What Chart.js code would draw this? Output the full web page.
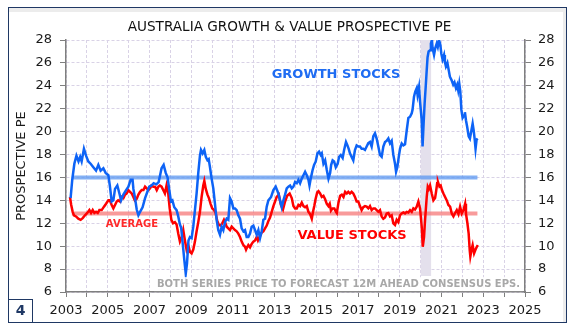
<!DOCTYPE html>
<html lang="en">
<head>
<meta charset="UTF-8">
<title>Australia Growth &amp; Value Prospective PE</title>
<script src="https://cdn.jsdelivr.net/npm/chart.js"></script>
<style>
  html, body { margin: 0; padding: 0; background: #fff; }
  .wrap { position: relative; width: 579px; height: 324px; }
  canvas { position: absolute; left: 0; top: 0; }
  .frame {
    position: absolute; left: 8px; top: 7px; width: 559px; height: 316px;
    box-sizing: border-box; border: 1.5px solid #1f3864;
    box-shadow: inset -3px 4px 0 #ececec; pointer-events: none;
  }
  .page-no {
    position: absolute; left: 8px; top: 299px; width: 25px; height: 24px;
    box-sizing: border-box; border: 1.5px solid #1f3864;
    font: bold 14px "DejaVu Sans", Verdana, sans-serif; color: #1f3864;
    text-align: center; line-height: 21px;
  }
</style>
</head>
<body>
<div class="wrap">
  <canvas id="peChart" width="579" height="324"></canvas>
  <div class="frame"></div>
  <div class="page-no">4</div>
</div>

<script>
// Growth stocks prospective PE (decimal year, PE)
const growthDates = [2003.22,2003.3,2003.4,2003.5,2003.6,2003.68,2003.75,2003.86,2003.96,2004.07,2004.18,2004.31,2004.44,2004.55,2004.66,2004.79,2004.9,2005.03,2005.1,2005.19,2005.27,2005.35,2005.46,2005.56,2005.64,2005.75,2005.88,2005.99,2006.1,2006.19,2006.23,2006.3,2006.39,2006.47,2006.55,2006.67,2006.79,2006.9,2006.99,2007.1,2007.2,2007.33,2007.44,2007.5,2007.58,2007.68,2007.78,2007.87,2007.94,2008.03,2008.1,2008.19,2008.3,2008.38,2008.46,2008.52,2008.58,2008.67,2008.74,2008.8,2008.87,2008.94,2009.02,2009.1,2009.18,2009.26,2009.34,2009.42,2009.47,2009.55,2009.63,2009.7,2009.78,2009.84,2009.9,2009.98,2010.06,2010.14,2010.22,2010.3,2010.38,2010.46,2010.54,2010.62,2010.7,2010.78,2010.86,2010.94,2011.02,2011.1,2011.18,2011.26,2011.34,2011.42,2011.5,2011.58,2011.66,2011.74,2011.82,2011.9,2011.98,2012.06,2012.14,2012.22,2012.3,2012.38,2012.46,2012.54,2012.62,2012.7,2012.83,2012.94,2013.05,2013.18,2013.26,2013.34,2013.42,2013.5,2013.58,2013.66,2013.74,2013.82,2013.9,2013.98,2014.06,2014.14,2014.22,2014.3,2014.38,2014.46,2014.54,2014.62,2014.67,2014.73,2014.82,2014.89,2014.97,2015.05,2015.13,2015.21,2015.26,2015.34,2015.42,2015.5,2015.58,2015.66,2015.71,2015.78,2015.85,2015.93,2016.02,2016.09,2016.17,2016.26,2016.33,2016.42,2016.49,2016.55,2016.61,2016.69,2016.77,2016.85,2016.93,2017.01,2017.09,2017.17,2017.25,2017.33,2017.41,2017.49,2017.57,2017.65,2017.73,2017.81,2017.89,2017.97,2018.05,2018.13,2018.21,2018.29,2018.37,2018.45,2018.53,2018.61,2018.69,2018.77,2018.82,2018.88,2018.95,2019.01,2019.09,2019.17,2019.25,2019.33,2019.41,2019.49,2019.57,2019.61,2019.68,2019.74,2019.81,2019.85,2019.92,2019.97,2020.05,2020.09,2020.14,2020.19,2020.24,2020.29,2020.33,2020.38,2020.45,2020.49,2020.54,2020.57,2020.64,2020.7,2020.77,2020.82,2020.88,2020.94,2020.99,2021.05,2021.12,2021.16,2021.21,2021.28,2021.34,2021.4,2021.48,2021.56,2021.62,2021.69,2021.75,2021.8,2021.85,2021.9,2021.95,2022.01,2022.08,2022.12,2022.17,2022.23,2022.3,2022.36,2022.43,2022.49,2022.54,2022.59,2022.63,2022.68,2022.73];
const growthPE = [14.2,15.8,17.2,17.9,17.4,17.8,17.4,18.5,17.9,17.4,17.2,16.9,16.6,17.1,16.6,16.8,16.4,16.2,15.3,13.9,14.0,15.0,15.3,14.6,14.0,14.5,14.9,15.2,15.8,15.8,15.0,14.3,13.2,12.7,13.0,13.4,14.2,14.75,15.2,15.3,15.5,15.4,15.6,16.1,16.8,17.1,16.4,16.0,15.05,13.9,14.0,13.4,13.15,12.6,11.9,11.6,10.5,8.8,7.6,8.5,10.5,10.8,10.7,11.7,13.15,14.6,16.4,17.9,18.4,18.1,18.4,17.8,17.5,17.6,16.9,15.9,15.05,13.7,12.3,11.4,11.0,11.7,11.4,12.1,12.4,12.3,14.2,13.9,13.3,13.3,13.15,12.7,12.4,11.55,11.3,11.4,10.8,10.8,11.1,11.7,11.8,11.4,11.0,11.4,10.7,11.3,12.3,12.4,13.45,14.0,14.3,14.9,15.2,14.6,14.0,13.4,14.0,14.5,15.05,15.2,15.3,15.05,15.2,15.6,15.5,15.8,15.5,15.9,16.2,16.5,16.2,15.8,15.3,15.9,16.65,17.1,17.4,18.1,18.25,17.96,18.1,17.2,17.5,16.65,15.9,16.4,17.1,17.5,17.4,16.9,17.2,17.8,17.96,17.7,18.4,19.1,18.8,18.5,18.1,17.8,17.5,18.4,18.8,18.7,18.7,18.5,18.5,18.4,18.7,19.0,19.1,18.7,19.6,19.85,19.4,18.7,17.96,17.8,18.7,19.1,19.2,19.4,18.97,19.2,17.96,17.2,16.5,16.9,17.8,18.5,18.97,18.8,18.9,20.1,21.2,21.3,21.6,21.9,23.05,23.5,23.8,23.2,23.9,22.6,21.0,18.7,20.7,22.5,23.9,25.4,26.5,27.0,27.1,27.7,28.0,27.3,26.7,27.3,27.7,27.4,28.0,27.6,26.8,26.3,26.7,26.1,25.7,26.0,25.4,24.8,24.5,24.1,24.3,23.8,24.1,23.6,24.2,23.5,21.9,21.2,21.4,21.7,21.0,20.4,19.6,19.4,20.1,20.7,20.1,19.3,18.5,19.3,19.4];

// Value stocks prospective PE (decimal year, PE)
const valueDates = [2003.19,2003.25,2003.32,2003.38,2003.48,2003.59,2003.7,2003.8,2003.91,2004.02,2004.12,2004.2,2004.28,2004.36,2004.44,2004.52,2004.6,2004.71,2004.82,2004.92,2005.03,2005.1,2005.19,2005.27,2005.35,2005.43,2005.5,2005.59,2005.67,2005.75,2005.83,2005.91,2005.99,2006.07,2006.15,2006.23,2006.3,2006.39,2006.47,2006.55,2006.63,2006.71,2006.79,2006.87,2006.95,2007.03,2007.1,2007.18,2007.27,2007.35,2007.43,2007.5,2007.58,2007.66,2007.74,2007.82,2007.9,2007.97,2008.05,2008.13,2008.22,2008.3,2008.38,2008.46,2008.55,2008.62,2008.7,2008.78,2008.86,2008.94,2009.02,2009.1,2009.18,2009.26,2009.34,2009.42,2009.5,2009.58,2009.63,2009.7,2009.78,2009.85,2009.93,2010.01,2010.08,2010.17,2010.25,2010.33,2010.41,2010.49,2010.57,2010.64,2010.7,2010.78,2010.86,2010.94,2011.02,2011.1,2011.18,2011.26,2011.34,2011.42,2011.5,2011.58,2011.63,2011.68,2011.74,2011.82,2011.9,2011.98,2012.06,2012.14,2012.2,2012.3,2012.38,2012.46,2012.54,2012.62,2012.7,2012.78,2012.86,2012.94,2013.02,2013.1,2013.2,2013.3,2013.4,2013.5,2013.6,2013.72,2013.82,2013.9,2013.98,2014.06,2014.14,2014.22,2014.3,2014.38,2014.46,2014.54,2014.62,2014.7,2014.78,2014.84,2014.9,2014.96,2015.04,2015.1,2015.18,2015.26,2015.34,2015.42,2015.5,2015.58,2015.64,2015.7,2015.78,2015.86,2015.94,2015.98,2016.06,2016.14,2016.22,2016.3,2016.38,2016.46,2016.53,2016.61,2016.69,2016.77,2016.85,2016.93,2017.01,2017.09,2017.17,2017.25,2017.33,2017.41,2017.49,2017.57,2017.65,2017.73,2017.81,2017.89,2017.97,2018.05,2018.13,2018.21,2018.29,2018.37,2018.45,2018.53,2018.61,2018.69,2018.77,2018.85,2018.93,2019.01,2019.09,2019.17,2019.25,2019.33,2019.41,2019.49,2019.57,2019.65,2019.73,2019.81,2019.89,2019.97,2020.05,2020.1,2020.16,2020.21,2020.29,2020.34,2020.39,2020.45,2020.53,2020.61,2020.69,2020.74,2020.79,2020.83,2020.9,2020.96,2021.02,2021.09,2021.17,2021.25,2021.33,2021.41,2021.49,2021.57,2021.65,2021.73,2021.81,2021.89,2021.97,2022.05,2022.13,2022.17,2022.24,2022.3,2022.35,2022.38,2022.45,2022.49,2022.56,2022.62,2022.69,2022.74];
const valuePE = [14.3,13.6,13.0,12.7,12.6,12.4,12.3,12.45,12.7,12.9,13.15,12.9,13.15,12.9,13.0,12.9,13.15,13.15,13.45,13.7,14.0,14.0,13.6,13.3,13.6,13.9,14.0,13.9,14.3,14.2,14.5,14.6,14.9,14.75,14.6,14.3,14.0,14.15,14.5,14.75,14.9,14.9,15.2,15.05,14.9,15.05,15.3,15.2,15.2,14.9,15.2,15.3,15.2,14.9,14.6,15.3,14.6,13.3,12.3,12.0,12.1,11.9,11.1,10.4,10.8,11.4,10.5,9.7,10.1,9.5,9.37,9.7,10.4,11.3,12.1,13.0,14.3,15.3,15.7,15.0,14.5,14.2,13.7,13.3,13.2,12.9,12.2,11.85,11.8,12.0,12.3,12.0,11.7,11.55,11.4,11.7,11.55,11.4,11.3,11.1,10.8,10.4,10.1,9.95,9.7,9.9,10.1,9.9,10.2,10.4,10.5,10.8,10.5,10.9,11.2,11.3,11.55,11.8,12.2,12.5,13.0,13.5,13.9,14.3,14.5,13.6,13.2,13.9,14.4,14.6,14.2,13.5,13.3,13.3,13.6,13.5,13.8,13.5,13.4,13.5,13.0,12.8,12.4,13.0,13.5,14.1,14.7,14.8,14.6,14.3,14.4,14.1,13.7,13.5,13.7,13.1,13.3,13.3,13.0,12.9,13.8,14.4,14.5,14.3,14.75,14.6,14.75,14.6,14.75,14.6,14.3,13.9,13.9,13.5,13.15,13.4,13.5,13.45,13.3,13.5,13.15,13.3,13.3,13.15,13.0,13.15,12.6,12.4,12.5,12.86,12.9,12.6,12.7,12.0,11.85,12.3,12.1,12.7,12.86,12.95,12.86,13.0,12.95,13.15,13.0,13.3,13.2,13.45,13.9,13.3,11.7,9.95,10.8,12.3,14.3,15.2,15.0,15.3,14.6,14.0,14.2,14.8,15.5,15.6,15.2,15.3,14.9,14.6,14.3,14.0,13.6,13.45,12.86,12.6,12.9,13.15,12.8,13.45,12.86,13.15,13.7,12.86,12.0,11.1,9.66,9.1,9.8,10.1,9.37,9.66,9.95,10.1];

// long-run averages and their span
const avgSpan = [2003.28, 2022.72];
const growthAvg = 16.0;
const valueAvg = 12.85;

// shaded covid period
const covidBand = [2020.0, 2020.5];
const bandFloor = 7.4;

const FONT = '"DejaVu Sans", Verdana, sans-serif';
Chart.defaults.font.family = FONT;
Chart.defaults.color = '#1a1a1a';

const toPoints = (xs, ys) => xs.map((x, i) => ({ x: x, y: ys[i] }));

// text drawn onto the plot, anchored in data units
const notes = [
  { text: 'GROWTH STOCKS', x: 2015.94, y: 24.94, color: '#1f6cf2', font: 'bold 13px ' + FONT },
  { text: 'VALUE STOCKS', x: 2016.71, y: 10.88, color: '#ff0000', font: 'bold 13px ' + FONT },
  { text: 'AVERAGE', x: 2006.16, y: 11.93, color: '#ff2a2a', font: 'bold 10px ' + FONT }
];
const footnote = { text: 'BOTH SERIES PRICE TO FORECAST 12M AHEAD CONSENSUS EPS.', x: 2016.06, y: 6.69 };

const overlays = {
  id: 'overlays',
  beforeDatasetsDraw(chart) {
    const { ctx, scales: { x, y } } = chart;
    const x0 = x.getPixelForValue(covidBand[0]);
    const x1 = x.getPixelForValue(covidBand[1]);
    const yTop = y.getPixelForValue(y.max);
    const yBot = y.getPixelForValue(bandFloor);
    ctx.save();
    ctx.fillStyle = '#e4e0ec';
    ctx.fillRect(x0, yTop, x1 - x0, yBot - yTop);
    ctx.restore();
  },
  afterDatasetsDraw(chart) {
    const { ctx, scales: { x, y } } = chart;
    ctx.save();
    ctx.textAlign = 'center';
    ctx.textBaseline = 'middle';
    notes.forEach(n => {
      ctx.font = n.font;
      ctx.fillStyle = n.color;
      ctx.fillText(n.text, x.getPixelForValue(n.x), y.getPixelForValue(n.y));
    });
    // footnote on a pale box
    ctx.font = 'bold 10px ' + FONT;
    const fx = x.getPixelForValue(footnote.x);
    const fy = y.getPixelForValue(footnote.y);
    const w = ctx.measureText(footnote.text).width;
    ctx.fillStyle = 'rgba(255,255,255,0.85)';
    ctx.fillRect(fx - w / 2 - 3, fy - 7, w + 6, 14);
    ctx.fillStyle = '#a8a8a8';
    ctx.fillText(footnote.text, fx, fy);
    ctx.restore();
  }
};

const gridColor = '#d9d2e6';
const axisColor = '#7f7f7f';

new Chart(document.getElementById('peChart'), {
  type: 'line',
  data: {
    datasets: [
      {
        label: 'Growth stocks',
        data: toPoints(growthDates, growthPE),
        borderColor: '#0d63f6',
        borderWidth: 2.5,
        pointRadius: 0,
        tension: 0,
        order: 1
      },
      {
        label: 'Value stocks',
        data: toPoints(valueDates, valuePE),
        borderColor: '#ff0000',
        borderWidth: 2.5,
        pointRadius: 0,
        tension: 0,
        order: 2
      },
      {
        label: 'Growth average',
        data: avgSpan.map(v => ({ x: v, y: growthAvg })),
        borderColor: 'rgba(90,150,240,0.75)',
        borderWidth: 4,
        pointRadius: 0,
        order: 3
      },
      {
        label: 'Value average',
        data: avgSpan.map(v => ({ x: v, y: valueAvg })),
        borderColor: 'rgba(245,120,120,0.75)',
        borderWidth: 4,
        pointRadius: 0,
        order: 4
      }
    ]
  },
  options: {
    responsive: false,
    animation: false,
    devicePixelRatio: 1,
    layout: { padding: 0 },
    plugins: {
      legend: { display: false },
      tooltip: { enabled: false },
      title: {
        display: true,
        text: 'AUSTRALIA GROWTH & VALUE PROSPECTIVE PE',
        color: '#111',
        font: { size: 13.6, weight: 'normal' },
        padding: { top: 19.7, bottom: 4 }
      }
    },
    scales: {
      x: {
        type: 'linear',
        min: 2003,
        max: 2025,
        afterFit: s => { s.height = 32; },
        ticks: {
          stepSize: 1,
          autoSkip: false,
          maxRotation: 0,
          padding: 6,
          font: { size: 13 },
          callback: v => (v % 2 ? String(v) : '')
        },
        grid: { color: gridColor, tickLength: 5, tickColor: axisColor },
        border: { color: axisColor, width: 1.5, dash: [3, 2] }
      },
      y: {
        position: 'left',
        min: 6,
        max: 28,
        afterFit: s => { s.width = 66; },
        ticks: { stepSize: 2, padding: 8, font: { size: 13 } },
        grid: { color: gridColor, tickLength: 6, tickColor: axisColor },
        border: { color: axisColor, width: 1.5, dash: [3, 2] },
        title: {
          display: true,
          text: 'PROSPECTIVE PE',
          font: { size: 13 },
          padding: { top: 13.7, bottom: 0 }
        }
      },
      y2: {
        position: 'right',
        min: 6,
        max: 28,
        afterFit: s => { s.width = 54; },
        ticks: { stepSize: 2, padding: 7, font: { size: 13 } },
        grid: { drawOnChartArea: false, tickLength: 6, tickColor: axisColor },
        border: { color: axisColor, width: 1.5 }
      }
    }
  },
  plugins: [overlays]
});
</script>
</body>
</html>
